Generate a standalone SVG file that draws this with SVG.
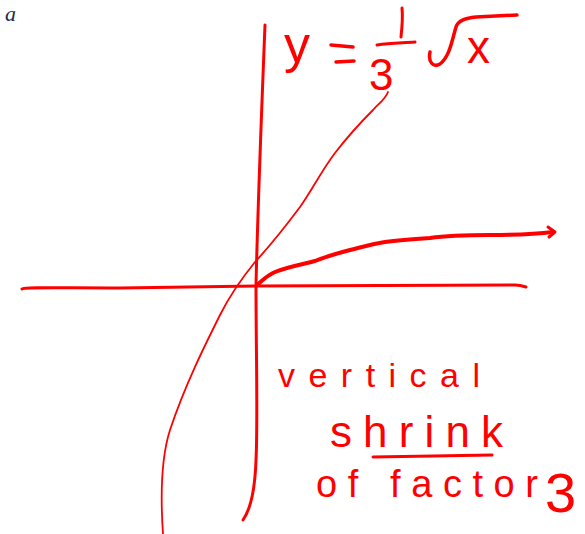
<svg xmlns="http://www.w3.org/2000/svg" width="585" height="534" viewBox="0 0 585 534">
<style>
.ink{fill:none;stroke:#ff0000;stroke-linecap:round;stroke-linejoin:round}
.hw{fill:#ff0000;font-family:"Liberation Sans",Arial,sans-serif}
</style>
<rect width="585" height="534" fill="#ffffff"/>
<text x="5" y="21" font-family="Liberation Serif,serif" font-style="italic" font-size="22" fill="#1f2a4a">a</text>
<g id="axes">
<path class="ink" stroke-width="3" d="M265,25 C262,100 258,200 256,285 C256,350 258,420 256,460 C255,490 250,510 243,520"/>
<path class="ink" stroke-width="3" d="M22,289 C24,287 60,288 120,288 L256,286 L515,285 C520,285 523,286 526,287"/>
</g>
<g id="curves">
<path class="ink" stroke-width="1.8" d="M388,92 C385,100 378,104 373,110 C360,123 345,140 335,153 C322,170 312,190 300,207 C285,227 268,248 255,262 C242,278 230,295 220,315 C205,345 185,385 170,430 C162,455 160,490 163,534"/>
<path class="ink" stroke-width="4" d="M257,285 C262,281 266,276 275,272 C290,266 305,264 315,261 C325,257 335,254 350,250 C362,247 372,244 385,242 C400,240 415,239 430,238 C450,235 470,235 490,235 C510,235 530,235 553,232"/>
<path class="ink" stroke-width="3" d="M548,227 L555,232 L549,237"/>
</g>
<g id="formula">
<text class="hw" x="284" y="62" font-size="52">y</text>
<path class="ink" stroke-width="3.5" d="M331,45 L353,47 M336,62 L354,61"/>
<path class="ink" stroke-width="3" d="M402,8 C403,18 402,28 401,37 M377,45 C390,43 402,43 415,42"/>
<text class="hw" x="369" y="90" font-size="44">3</text>
<path class="ink" stroke-width="3.5" d="M430,52 C428,62 433,68 440,64 C450,56 452,40 456,27 C458,20 466,18 476,17 L517,15"/>
<text class="hw" x="467" y="63" font-size="46">x</text>
</g>
<g id="note">
<text class="hw" x="278" y="387" font-size="34" textLength="202" lengthAdjust="spacing">vertical</text>
<text class="hw" x="330" y="447" font-size="44" textLength="173" lengthAdjust="spacing">shrink</text>
<path class="ink" stroke-width="3" d="M373,457 L492,455"/>
<text class="hw" x="316" y="497" font-size="38" textLength="222" lengthAdjust="spacing">of factor</text>
<text class="hw" x="545" y="512" font-size="56">3</text>
</g>
</svg>
